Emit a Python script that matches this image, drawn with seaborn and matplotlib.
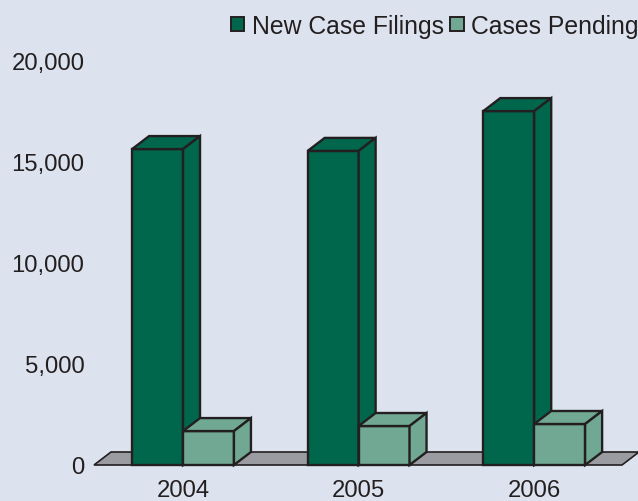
import matplotlib
matplotlib.use("Agg")
import matplotlib.pyplot as plt
from matplotlib.patches import Polygon, Patch
from matplotlib.ticker import FuncFormatter
import seaborn as sns
import pandas as pd

years = ["2004", "2005", "2006"]
series = ["New Case Filings", "Cases Pending"]
new_case_filings = [15640, 15550, 17520]
cases_pending = [1680, 1930, 2030]
yticks = [0, 5000, 10000, 15000, 20000]

BG = "#dce3ee"
DARK = "#00674d"
LIGHT = "#70a893"
FLOOR = "#9b9ca1"
EDGE = "#231f20"
TXT = "#231f20"

df = pd.DataFrame({
    "year": years * 2,
    "series": [series[0]] * 3 + [series[1]] * 3,
    "value": new_case_filings + cases_pending,
})

sns.set_theme(style="white")
plt.rcParams["font.family"] = ["Liberation Sans", "DejaVu Sans"]

W, H = 638, 502
fig = plt.figure(figsize=(W / 100, H / 100), dpi=100, facecolor=BG)
ax_l, ax_r, ax_top, ax_bot = 94, 622, 62, 466
ax = fig.add_axes([ax_l / W, (H - ax_bot) / H, (ax_r - ax_l) / W, (ax_bot - ax_top) / H])
ax.set_facecolor("none")

sns.barplot(data=df, x="year", y="value", hue="series", palette=[DARK, LIGHT],
            width=0.58, edgecolor=EDGE, linewidth=1.7, saturation=1,
            ax=ax, legend=False)

xlim = (-0.507, 2.5)
ylim = (0, 20000)
ax.set_xlim(*xlim)
ax.set_ylim(*ylim)

# depth offset in data units (17 px right, 13 px up)
dx = 17 / (ax_r - ax_l) * (xlim[1] - xlim[0])
dy = 13 / (ax_bot - ax_top) * (ylim[1] - ylim[0])

# floor
floor = Polygon([(xlim[0], 0), (xlim[1], 0), (xlim[1] + dx, dy), (xlim[0] + dx, dy)],
                closed=True, facecolor=FLOOR, edgecolor=EDGE, linewidth=1.2,
                zorder=1, clip_on=False)
ax.add_patch(floor)

bars = [p for p in ax.patches if p is not floor]
for p in bars:
    is_light = abs(p.get_height()) < 5000
    z = 4 if is_light else 3
    p.set_zorder(z)
    p.set_clip_on(False)
    x0 = p.get_x()
    x1 = x0 + p.get_width()
    h = p.get_height()
    fc = p.get_facecolor()
    top = Polygon([(x0, h), (x1, h), (x1 + dx, h + dy), (x0 + dx, h + dy)], closed=True,
                  facecolor=fc, edgecolor=EDGE, linewidth=1.7, zorder=z, clip_on=False,
                  joinstyle="miter")
    side = Polygon([(x1, 0), (x1 + dx, dy), (x1 + dx, h + dy), (x1, h)], closed=True,
                   facecolor=fc, edgecolor=EDGE, linewidth=1.7, zorder=z, clip_on=False,
                   joinstyle="miter")
    ax.add_patch(top)
    ax.add_patch(side)

ax.set_yticks(yticks)
ax.yaxis.set_major_formatter(FuncFormatter(lambda v, _: f"{int(v):,}"))
ax.tick_params(axis="y", length=0, pad=7, labelsize=17.2, labelcolor=TXT)
ax.tick_params(axis="x", length=0, pad=10, labelsize=17.2, labelcolor=TXT)
ax.set_xlabel("")
ax.set_ylabel("")
for s in ax.spines.values():
    s.set_visible(False)

handles = [Patch(facecolor=DARK, edgecolor=EDGE, linewidth=1.4, label=series[0]),
           Patch(facecolor=LIGHT, edgecolor=EDGE, linewidth=1.4, label=series[1])]
fig.legend(handles=handles, loc="upper right", bbox_to_anchor=(1.028, 1.005), ncol=2,
           frameon=False, fontsize=17.8, handlelength=0.55, handleheight=0.55,
           handletextpad=0.3, columnspacing=0.25, borderaxespad=0.3, labelcolor=TXT)

fig.savefig("out.png", dpi=100, facecolor=BG)
